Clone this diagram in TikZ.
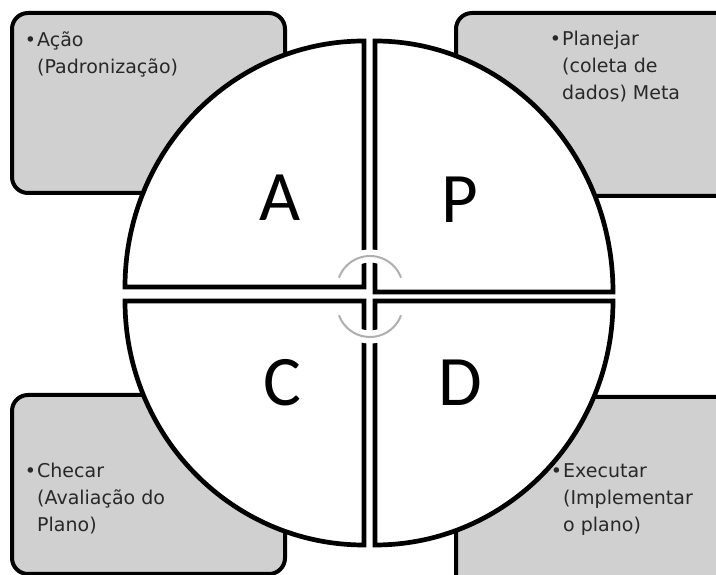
\documentclass[tikz,border=0pt]{standalone}
\usepackage{fontspec}
\setmainfont{DejaVu Sans}
\newfontfamily\letterfont{Carlito}
\definecolor{boxgray}{RGB}{208,208,208}
\definecolor{arcgray}{RGB}{175,175,175}
\definecolor{txt}{RGB}{40,40,40}
\begin{document}
\begin{tikzpicture}[x=1pt,y=1pt,
  cornerbox/.style={draw=black,line width=4pt,fill=boxgray,rounded corners=16pt},
  quad/.style={draw=black,line width=4.7pt,fill=white,line join=miter},
  letter/.style={font=\letterfont\fontsize{71}{71}\selectfont,inner sep=0pt,anchor=base},
  boxtext/.style={font=\fontsize{19}{27}\selectfont,text=txt,inner sep=0pt,anchor=base west,align=left},
  turnarc/.style={line width=2pt,draw=arcgray,preaction={draw=white,line width=13pt}}]
\useasboundingbox (0,0) rectangle (716,575);
\begin{scope}
\clip (0,0) rectangle (716,575);
% corner boxes
\path[cornerbox] (12,382) rectangle (285,562);
\path[cornerbox] (456,379) rectangle (740,562);
\path[cornerbox] (12,1) rectangle (285,180);
\path[cornerbox] (456,-17) rectangle (740,178);
% quadrants
\path[quad] (364,288) -- (125,288) arc[start angle=180,end angle=90,x radius=239,y radius=246] -- cycle;
\path[quad] (375,283) -- (375,534) arc[start angle=90,end angle=0,x radius=238,y radius=251] -- cycle;
\path[quad] (364,274) -- (125,274) arc[start angle=180,end angle=270,x radius=239,y radius=244] -- cycle;
\path[quad] (375,274) -- (613,274) arc[start angle=0,end angle=-90,x radius=238,y radius=244] -- cycle;
\end{scope}
% letters
\node[letter] (A) at (280,354) {A};
\node[letter] (P) at (460,352) {P};
\node[letter] (C) at (282,169) {C};
\node[letter] (D) at (460,169) {D};
% center arcs
\draw[turnarc] (370,286) ++(20:33) arc[start angle=20,end angle=160,radius=33];
\draw[turnarc] (370,271) ++(200:33) arc[start angle=200,end angle=340,radius=33];
% texts (base anchor = baseline of the last line)
\node[boxtext] (tA) at (37,501) {\llap{•\hspace{1pt}}Ação\\(Padronização)};
\node[boxtext] (tP) at (562,475) {\llap{•\hspace{1pt}}Planejar\\(coleta de\\dados) Meta};
\node[boxtext] (tC) at (37,43) {\llap{•\hspace{1pt}}Checar\\(Avaliação do\\Plano)};
\node[boxtext] (tD) at (563,43) {\llap{•\hspace{1pt}}Executar\\(Implementar\\o plano)};
\end{tikzpicture}
\end{document}
